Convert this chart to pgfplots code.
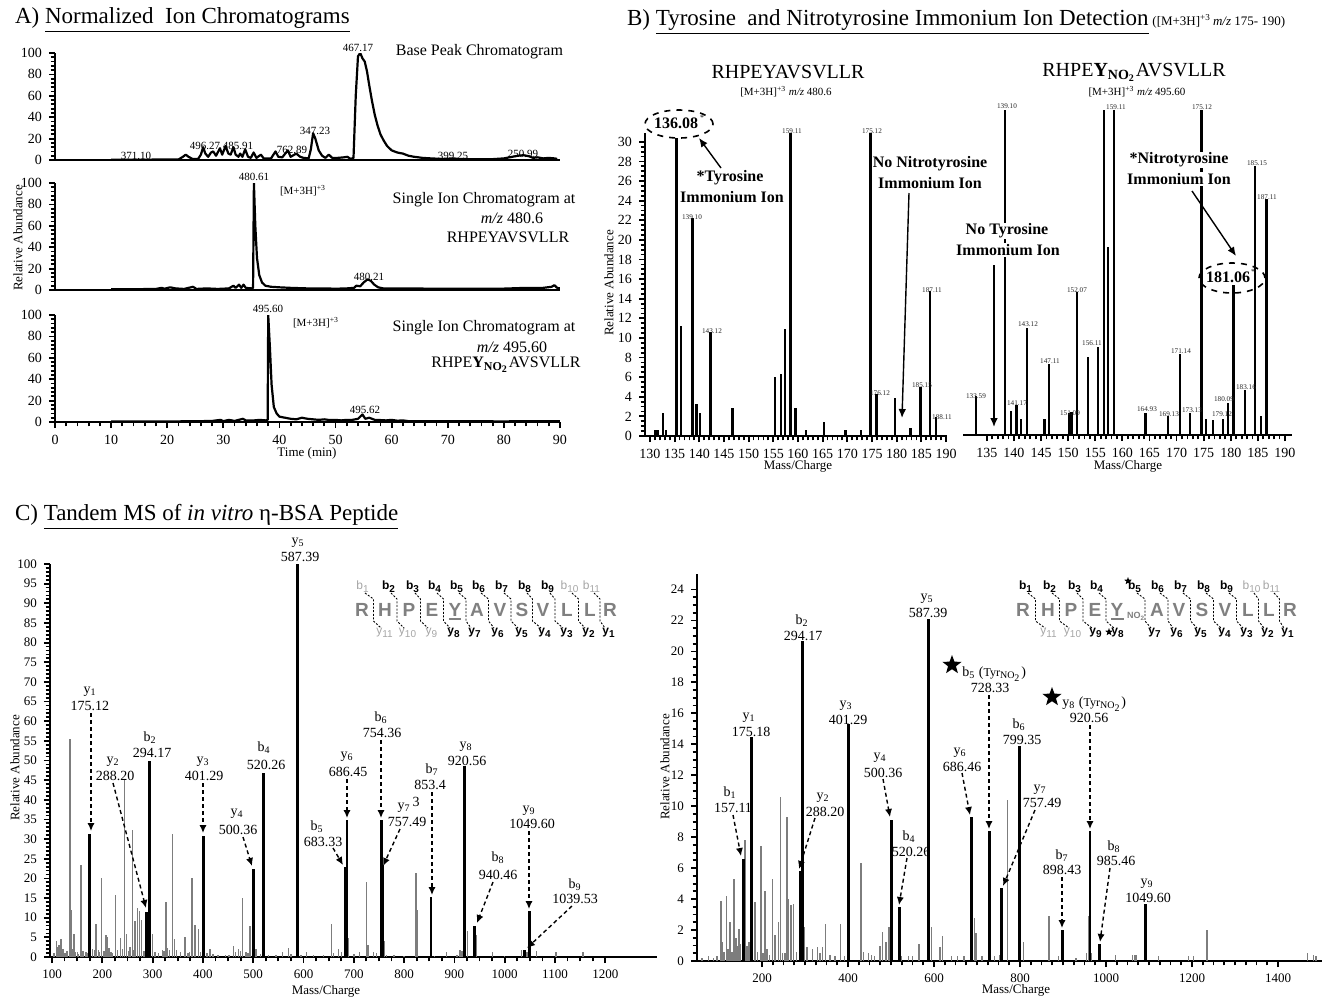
\documentclass[border=0pt]{standalone}
\usepackage{fontspec}
\setmainfont{Liberation Serif}
\newfontfamily\sansf{Liberation Sans}
\usepackage{pgfplots}
\pgfplotsset{compat=1.18}
\usetikzlibrary{arrows.meta,shapes.geometric}
\definecolor{gbar}{RGB}{125,125,125}
\definecolor{seqg}{RGB}{128,128,128}
\definecolor{lg}{RGB}{165,165,165}
\newcommand{\fs}[1]{\fontsize{#1}{#1}\selectfont}
\pgfplotsset{
 base/.style={scale only axis, anchor=south west, enlargelimits=false,
   axis x line*=bottom, axis y line*=left,
   axis line style={line width=1.2pt,-},
   tick style={line width=0.9pt,black},
   tick align=outside, major tick length=3pt, minor tick length=2.2pt,
   ticklabel style={font=\fs{7pt}},
   /pgf/number format/assume math mode=true,
   /pgf/number format/1000 sep={},
   scaled ticks=false},
}
\tikzset{
 darr/.style={dash pattern=on 2pt off 1.5pt, line width=0.7pt, -{Latex[length=4pt,width=3.6pt]}},
 sarr/.style={line width=0.7pt, -{Latex[length=4.5pt,width=3.8pt]}},
 lab/.style={font=\fs{7pt}, inner sep=0pt},
 tiny/.style={font=\fs{3.6pt}, inner sep=0pt, text=black!85},
}
\begin{document}
\begin{tikzpicture}
\path[use as bounding box] (0,0) rectangle (665pt,-499pt);

% ---------------- A1 ----------------
\begin{axis}[base, at={(27.5pt,-80pt)}, width=252.5pt, height=53.5pt,
  xmin=0, xmax=90, ymin=0, ymax=100, xtick=\empty, ytick={0,20,...,100}, minor y tick num=4]
\addplot[black, line width=1.1pt, line join=round] coordinates {
(10,0.3) (14,0.3) (18,0.4) (22,0.5) (22.8,3) (23.3,5) (23.8,3) (24.5,1) (25.5,1) (26.0,5) (26.4,12) (26.8,6) (27.3,3) (27.8,7) (28.2,8) (28.7,4) (29.1,8) (29.4,11) (29.8,5) (30.1,9) (30.4,13) (30.9,6) (31.3,5) (31.8,12) (32.2,5) (32.7,3) (33.0,6) (33.4,3) (33.9,10) (34.4,3) (34.9,2) (35.4,7) (35.9,2) (36.7,5) (37.2,1.5) (38.5,1.5) (39.3,8) (39.8,3) (40.5,2.5) (41.5,9) (42.0,3) (43.0,6) (43.7,3) (44.3,2) (45.2,1.5) (45.6,10) (46.0,25) (46.4,20) (47.0,9) (47.6,4) (48.2,2) (48.8,5) (49.4,2) (50.4,2) (51.5,2.5) (52.1,3) (52.7,1) (53.2,2) (53.6,60) (54.0,97) (54.4,100) (54.8,95) (55.2,92) (55.6,83) (56.0,70) (56.5,55) (57.0,42) (57.5,32) (58.0,24) (58.6,18) (59.2,13) (60.0,9) (61.0,7) (62.0,6) (63.0,4) (64.0,3) (65.5,2) (67,1.5) (69,1) (71,1.5) (72,1) (74,0.8) (78,0.8) (80,1.5) (81.5,3) (82.5,4) (83.5,4.5) (84.5,3.5) (85.2,2) (86,2.5) (87,1.5) (88,2) (89,1.5) (89.5,1)};
\end{axis}
% ---------------- A2 ----------------
\begin{axis}[base, at={(27.5pt,-145pt)}, width=252.5pt, height=53.5pt,
  xmin=0, xmax=90, ymin=0, ymax=100, xtick=\empty, ytick={0,20,...,100}, minor y tick num=4]
\addplot[black, line width=1.1pt, line join=round] coordinates {
(10,0.8) (15,0.8) (18,1) (19,2) (19.5,1.2) (20.5,2.5) (21.5,1.5) (23,1) (24.6,3) (25.2,1) (27,1.5) (29,1) (31,1.5) (31.8,4) (32.2,2) (32.8,5) (33.2,2) (33.6,5) (34.0,2) (35.0,1.5) (35.3,2) (35.45,100) (35.7,60) (36.0,30) (36.4,14) (36.9,7) (37.5,4) (38.5,3) (40,2.5) (42,2) (45,1.5) (48,1.5) (50,1.2) (52,1.5) (53.3,2) (53.7,4) (54.4,3.5) (55.0,7) (55.7,10) (56.3,8.5) (56.9,5) (57.6,2.5) (58.5,1.5) (62,1.5) (66,1.3) (70,1.2) (75,1.2) (80,1.3) (84,2) (87,2) (88.5,3) (89,4.5) (89.5,2) (90,1.5)};
\end{axis}
% ---------------- A3 ----------------
\begin{axis}[base, at={(27.5pt,-211pt)}, width=252.5pt, height=53.5pt,
  xmin=0, xmax=90, ymin=0, ymax=100, xtick={0,10,...,90}, minor x tick num=4, ytick={0,20,...,100}, minor y tick num=4]
\addplot[black, line width=1.1pt, line join=round] coordinates {
(10,0.5) (20,0.5) (26,0.8) (28,1) (29.5,2) (30,0.8) (31,2) (32,1) (33.5,3) (34,1.5) (35.5,1.5) (36.5,2) (37.5,1.5) (37.9,2) (38.0,100) (38.3,70) (38.6,35) (39.0,14) (39.5,8) (40.0,5) (41,4) (42,3) (43,2.5) (44,4) (45,3) (46,2.5) (47,2) (48,2.5) (49,1.8) (50,2) (51,1.5) (52,2) (53,2) (54,3) (54.8,7) (55.3,3) (56,4) (57,2) (58,1.8) (59,1.5) (60,2) (61,1.2) (62,1.5) (63,0.8) (70,0.7) (80,0.6) (90,0.8)};
\end{axis}

% ---------------- B1 ----------------
\begin{axis}[base, at={(322.5pt,-218pt)}, width=151pt, height=151.5pt,
  xmin=129, xmax=190.2, ymin=0, ymax=30.9, xtick={130,135,...,190}, minor x tick num=4,
  ytick={0,2,...,30}, minor y tick num=3]
\addplot[ycomb, black, line width=1.2pt] coordinates {
(131.0,0.6) (131.5,0.6) (132.7,2.3) (133.2,0.6) (135.4,31) (136.3,11.2) (138.6,22.2) (139.4,3.3) (140.2,2.3) (142.3,10.6) (146.7,2.9) (155.3,6.0) (156.5,6.3) (157.4,10.9) (158.5,31) (159.5,2.9) (161.6,0.6) (165.3,1.4) (169.6,0.6) (172.8,0.6) (174.7,31) (175.9,4.3) (179.7,3.9) (182.8,0.8) (184.8,5.0) (186.7,14.8) (188.0,1.9)};
\end{axis}
% ---------------- B2 ----------------
\begin{axis}[base, axis y line=none, at={(481.5pt,-217.5pt)}, width=164.5pt, height=162.5pt,
  xmin=130.6, xmax=191.3, ymin=0, ymax=33.2, xtick={135,140,...,190}, minor x tick num=4, ytick=\empty]
\addplot[ycomb, black, line width=1.2pt] coordinates {
(133.0,4.0) (138.4,33.2) (139.4,2.5) (140.5,3.1) (141.3,1.6) (142.4,10.9) (145.6,1.6) (146.5,7.3) (150.2,2.2) (150.6,2.4) (151.6,14.6) (153.7,8.0) (155.5,9.0) (156.6,33.2) (157.4,19.2) (158.5,33.2) (164.3,2.2) (168.4,1.9) (170.6,8.3) (172.5,2.2) (174.6,33.2) (175.4,1.6) (176.7,1.5) (178.6,1.6) (179.5,3.3) (180.5,15.3) (182.6,4.6) (184.5,27.5) (185.6,1.9) (186.6,24.1)};
\end{axis}

% ---------------- C1 ----------------
\begin{axis}[base, at={(25pt,-478.5pt)}, width=303.5pt, height=196.5pt,
  xmin=96, xmax=1302.8, ymin=0, ymax=100, xtick={100,200,...,1200}, minor x tick num=3,
  ytick={0,5,...,100}, minor y tick num=4, ticklabel style={font=\fs{6.5pt}}]
\addplot[ycomb, gbar, line width=0.7pt] coordinates {
(104,1) (109,4.0) (112,2.5) (114,3) (118,4.6) (122,2) (126,1) (130,1.5) (135.8,55.4) (138.5,12) (140,2) (143.8,5.8) (147,1.2) (150.4,1.4) (153,0.8) (157.7,23.5) (162,1.5) (167.6,1.2) (170,1) (180,2) (184,1.8) (187.5,8.5) (192.8,1.9) (195,1.3) (198.8,20.1) (203,1.5) (207.4,5.5) (210.7,5.1) (213,2.2) (217.3,1.4) (220,1) (226.6,15.8) (230,1.8) (236.5,4.8) (240,2) (244.5,45.3) (247.8,5.8) (252,1.5) (255,2.5) (259.7,32.4) (262,1.8) (265,9.1) (270.3,12.5) (274.3,11.6) (278.3,9.5) (283,1.5) (287,1.3) (294.9,9.5) (300.2,5.8) (305,1.4) (312,1) (320,1.9) (323,1.6) (326.7,14) (330,2.2) (333.3,1.9) (339.9,31.4) (343.2,4.6) (348,1.8) (355,1.2) (364.4,5.0) (370,1) (373,1.4) (378.4,20.1) (384.3,8.2) (391,7.1) (395,1.3) (402.2,9.1) (408,1.1) (414.2,2) (420,0.8) (430,0.6) (445,0.6) (452,0.5) (460.6,2.7) (465,1.2) (470.5,2) (475,1.5) (479.1,15) (486,1.2) (490,1.0) (493.7,8) (500.3,8.2) (505.6,2) (515,0.8) (522.2,3.1) (530,0.5) (545,0.4) (558.6,1.2) (569.9,2.3) (575,0.8) (588.4,10) (595,0.6) (606.3,1.2) (620,0.5) (640,0.5) (656,8.5) (660,1) (669.3,2) (675,1.2) (689,4.8) (700,0.8) (711,1.2) (725.6,19.2) (728,3.1) (738.8,1.2) (745,1) (760,4) (765,0.6) (780,0.4) (800,0.3) (823.7,21.4) (827,12) (860,0.3) (884.6,1.2) (905,0.5) (911,1.7) (915,1.5) (925.7,6.5) (943,5.5) (976,1.2) (1000,0.3) (1033.8,1.7) (1040,1.7) (1044,1.2) (1049.6,8.6) (1063.6,1.5) (1102,1.2) (1156,1.2)};
\addplot[ycomb, black, line width=1.4pt] coordinates {
(175.12,31.4) (288.20,11.4) (294.17,50) (401.29,30.8) (500.36,22.4) (520.26,46.8) (587.39,100) (683.33,23) (686.45,34.9) (754.36,34.9) (757.49,23.5) (853.4,15.3) (920.56,48.6) (940.46,7.8) (1039.53,1.9) (1049.60,11.6)};
\end{axis}
% ---------------- C2 ----------------
\begin{axis}[base, at={(348.5pt,-480.5pt)}, width=312.5pt, height=193.5pt,
  xmin=48.8, xmax=1502.3, ymin=0, ymax=25, xtick={200,400,...,1400}, minor x tick num=7,
  ytick={0,2,...,24}, minor y tick num=3, ticklabel style={font=\fs{6.5pt}}]
\addplot[ycomb, gbar, line width=0.7pt] coordinates {
(60,0.2) (75,0.3) (86.7,0.2) (95,0.3) (104.7,3.9) (108.6,1.2) (112,0.6) (117.9,4.2) (121,0.8) (125.6,2.5) (130,0.6) (134.9,5.3) (139.5,1.5) (143,1.0) (146.5,2.1) (150,1.1) (160,7.8) (165,1.0) (169.8,1.2) (177.5,2.0) (183.7,3.8) (190,0.6) (197.7,7.4) (202,0.5) (207,4.5) (212,0.8) (218,0.4) (224,5.3) (230.2,1.7) (238,2.5) (243.4,10.6) (248,0.5) (253.5,0.5) (258.1,9.3) (261.2,4.0) (267.4,3.6) (273.6,3.7) (280,0.6) (297.7,2.2) (304.7,0.9) (317.8,0.8) (328.7,0.9) (335,0.5) (341.1,0.9) (348.1,2.4) (358.1,0.4) (370,0.3) (383,2.4) (392,0.3) (430.2,6.3) (435.7,0.6) (448.1,0.5) (455,0.4) (462,0.3) (474.4,1.0) (480.6,1.9) (488.4,1.2) (495.3,2.2) (503.9,2.5) (523.3,0.3) (540,0.3) (550,0.3) (565.1,1.1) (587.39,2.8) (594.6,2.2) (613.9,0.9) (620.2,1.6) (640,0.3) (655,0.3) (670,0.3) (690,2.5) (693.8,2.8) (697.7,1.8) (712,0.3) (740,0.3) (752,0.4) (771.3,10.4) (800,2.5) (807.8,1.2) (867.4,2.9) (889,0.3) (930.2,0.2) (955,0.5) (959.8,2.9) (966,0.5) (1021.7,0.4) (1062,0.4) (1066,0.4) (1070,0.4) (1121.7,0.3) (1191.4,0.3) (1203,0.3) (1234.9,2.0) (1468,0.5) (1482,0.4) (1488,0.3)};
\addplot[ycomb, black, line width=1.4pt] coordinates {
(157.11,6.6) (175.18,14.5) (288.20,5.8) (294.17,20.7) (401.29,15.3) (500.36,9.1) (520.26,3.5) (587.39,22.1) (686.46,9.3) (728.33,8.4) (757.49,4.7) (799.35,13.9) (898.43,2.0) (962.8,8.4) (985.46,1.1) (1092,3.7)};
\end{axis}

% ================= annotations (pixel coordinates) =================
\begin{scope}[x=0.5pt,y=-0.5pt]
% titles
\node[anchor=west, font=\fs{11.5pt}] at (8,20) {A) \underline{Normalized\ \ Ion Chromatograms}};
\node[anchor=west, font=\fs{11.5pt}] at (620,22) {B) \underline{Tyrosine\ \ and Nitrotyrosine Immonium Ion Detection}\,{\fs{6.5pt}([M+3H]\textsuperscript{+3}\,\textit{m/z} 175- 190)}};
\node[anchor=west, font=\fs{11.5pt}] at (8,517) {C) \underline{Tandem MS of \textit{in vitro} η-BSA Peptide}};

% ---- A texts
\node[anchor=east, font=\fs{8pt}] at (570,52) {Base Peak Chromatogram};
\foreach \x/\y/\t in {136/156/371.10, 205/146/496.27, 238/146/485.91, 292/150/762.89, 315/131/347.23, 358/48/467.17, 453/156/399.25, 523/154/250.99}
  \node[font=\fs{5.5pt}, inner sep=0pt] at (\x,\y) {\t};
\node[font=\fs{8pt}] at (484,200) {Single Ion Chromatogram at};
\node[font=\fs{8pt}] at (512,218) {\textit{m/z} 480.6};
\node[font=\fs{8pt}] at (508,237) {RHPEYAVSVLLR};
\node[font=\fs{5.5pt}, inner sep=0pt] at (254,177) {480.61};
\node[font=\fs{5.5pt}, inner sep=0pt] at (303,191) {[M+3H]\textsuperscript{+3}};
\node[font=\fs{5.5pt}, inner sep=0pt] at (369,277) {480.21};
\node[font=\fs{8pt}] at (484,328) {Single Ion Chromatogram at};
\node[font=\fs{8pt}] at (512,347) {\textit{m/z} 495.60};
\node[font=\fs{8pt}] at (506,365) {RHPE\textbf{Y}\textsubscript{\textbf{NO\textsubscript{2}}}AVSVLLR};
\node[font=\fs{5.5pt}, inner sep=0pt] at (268,309) {495.60};
\node[font=\fs{5.5pt}, inner sep=0pt] at (316,323) {[M+3H]\textsuperscript{+3}};
\node[font=\fs{5.5pt}, inner sep=0pt] at (365,410) {495.62};
\node[rotate=90, font=\fs{6.5pt}] at (18,238) {Relative Abundance};
\node[font=\fs{6.5pt}] at (307,453) {Time (min)};

% ---- B texts
\node[font=\fs{10pt}] at (788,72) {RHPEYAVSVLLR};
\node[font=\fs{5.5pt}] at (786,92) {[M+3H]\textsuperscript{+3} \textit{m/z} 480.6};
\node[font=\fs{10pt}] at (1134,72) {RHPE\textbf{Y}\textsubscript{\textbf{NO\textsubscript{2}}}AVSVLLR};
\node[font=\fs{5.5pt}] at (1137,92) {[M+3H]\textsuperscript{+3} \textit{m/z} 495.60};
\node[rotate=90, font=\fs{6.5pt}] at (609,283) {Relative Abundance};
\node[font=\fs{6.5pt}] at (798,466) {Mass/Charge};
\node[font=\fs{6.5pt}] at (1128,466) {Mass/Charge};
% B1 annotations
\draw[dashed, line width=0.8pt, fill=white] (679,124) ellipse (17pt and 7pt);
\node[font=\fs{8pt}\bfseries, inner sep=0pt] at (676,123) {136.08};
\node[font=\fs{4pt}, inner sep=0pt] at (702,118) {*};
\draw[sarr] (721,168) -- (699,138);
\node[font=\fs{8pt}\bfseries, inner sep=0.5pt] at (730,178) {*Tyrosine};
\node[font=\fs{8pt}\bfseries, inner sep=0.5pt] at (732,197) {Immonium Ion};
\node[font=\fs{8pt}\bfseries, inner sep=0.5pt] at (930,164) {No Nitrotyrosine};
\node[font=\fs{8pt}\bfseries, inner sep=0.5pt] at (930,183) {Immonium Ion};
\draw[sarr] (909,193) -- (902,418);
\foreach \x/\y/\t in {692/217/139.10, 712/331/143.12, 792/131/159.11, 872/131/175.12, 880/393/176.12, 922/385/185.15, 932/290/187.11, 942/417/188.11}
  \node[tiny] at (\x,\y) {\t};
% B2 annotations
\node[font=\fs{8pt}\bfseries, inner sep=0.6pt, fill=white] at (1007,231) {No Tyrosine};
\node[font=\fs{8pt}\bfseries, inner sep=0.6pt, fill=white] at (1008,250) {Immonium Ion};
\draw[sarr] (994,265) -- (994,427);
\node[font=\fs{8pt}\bfseries, inner sep=0.6pt, fill=white] at (1179,160) {*Nitrotyrosine};
\node[font=\fs{8pt}\bfseries, inner sep=0.6pt, fill=white] at (1179,179) {Immonium Ion};
\draw[sarr] (1192,191) -- (1236,256);
\draw[dashed, line width=0.8pt] (1232,278) ellipse (16.5pt and 7.5pt);
\node[font=\fs{8pt}\bfseries, inner sep=0.5pt, fill=white] at (1228,277) {181.06};
\node[font=\fs{4pt}, inner sep=0pt] at (1253,272) {*};
\foreach \x/\y/\t in {976/396/133.59, 1007/106/139.10, 1017/403/141.17, 1028/324/143.12, 1050/361/147.11, 1070/413/151.09, 1077/290/152.07, 1092/343/156.11, 1116/107/159.11, 1147/409/164.93, 1169/414/169.13, 1181/351/171.14, 1192/410/173.13, 1202/107/175.12, 1222/414/179.12, 1224/399/180.09, 1246/387/183.16, 1257/163/185.15, 1267/197/187.11}
  \node[tiny] at (\x,\y) {\t};

% ---- C texts
\node[rotate=90, font=\fs{6.5pt}] at (15,768) {Relative Abundance};
\node[font=\fs{6.5pt}] at (326,991) {Mass/Charge};
\node[rotate=90, font=\fs{6.5pt}] at (665,767) {Relative Abundance};
\node[font=\fs{6.5pt}] at (1016,990) {Mass/Charge};

% C1 labels
\foreach \x/\y/\t in {90/692/y\textsubscript{1}, 90/706/175.12, 113/762/y\textsubscript{2}, 115/776/288.20, 150/738/b\textsubscript{2}, 152/753/294.17, 203/762/y\textsubscript{3}, 204/776/401.29, 237/814/y\textsubscript{4}, 238/830/500.36, 264/748/b\textsubscript{4}, 266/765/520.26, 298/543/y\textsubscript{5}, 300/557/587.39, 317/827/b\textsubscript{5}, 323/842/683.33, 347/757/y\textsubscript{6}, 348/772/686.45, 381/718/b\textsubscript{6}, 382/733/754.36, 404/808/y\textsubscript{7}, 416/802/3, 407/822/757.49, 432/770/b\textsubscript{7}, 430/785/853.4, 466/747/y\textsubscript{8}, 467/761/920.56, 498/858/b\textsubscript{8}, 498/875/940.46, 529/811/y\textsubscript{9}, 532/824/1049.60, 575/885/b\textsubscript{9}, 575/899/1039.53}
  \node[lab] at (\x,\y) {\t};
\draw[darr] (91,713) -- (91,831);
\draw[darr] (113,783) -- (146,908);
\draw[darr] (203,783) -- (203,833);
\draw[darr] (243,837) -- (252,866);
\draw[darr] (333,848) -- (343,865);
\draw[darr] (347,779) -- (347,818);
\draw[darr] (381,740) -- (381,818);
\draw[darr] (400,829) -- (383,866);
\draw[darr] (432,792) -- (432,895);
\draw[darr] (493,882) -- (477,923);
\draw[darr] (529,831) -- (529,909);
\draw[darr] (572,906) -- (527,948);

% C1 sequence
\foreach \x/\l in {362/R,385/H,409/P,432/E,455/Y,477/A,500/V,522/S,543/V,567/L,590/L,610/R}
  \node[font=\sansf\bfseries\fs{9.5pt}, text=seqg, inner sep=0pt] at (\x,610) {\l};
\draw[seqg, line width=0.8pt] (449,619) -- (461,619);
\foreach \x/\n/\c/\w in {363/1/lg/\mdseries, 389/2/black/\bfseries, 413/3/black/\bfseries, 435/4/black/\bfseries, 457/5/black/\bfseries, 479/6/black/\bfseries, 502/7/black/\bfseries, 525/8/black/\bfseries, 548/9/black/\bfseries, 570/10/lg/\mdseries, 592/11/lg/\mdseries}
  \node[font=\sansf\w\fs{6pt}, text=\c, inner sep=0pt] at (\x,587) {b\textsubscript{\n}};
\foreach \x/\n/\c/\w in {385/11/lg/\mdseries, 408/10/lg/\mdseries, 432/9/lg/\mdseries, 454/8/black/\bfseries, 475/7/black/\bfseries, 498/6/black/\bfseries, 522/5/black/\bfseries, 545/4/black/\bfseries, 567/3/black/\bfseries, 589/2/black/\bfseries, 609/1/black/\bfseries}
  \node[font=\sansf\w\fs{6pt}, text=\c, inner sep=0pt] at (\x,633) {y\textsubscript{\n}};
\foreach \bx/\s/\yx in {363/373.5/385, 389/397/408, 413/420.5/432, 435/443.5/454, 457/466/475, 479/488.5/498, 502/511/522, 525/532.5/545, 548/555/567, 570/578.5/589, 592/600/609}
  \draw[dash pattern=on 1pt off 0.8pt, line width=0.45pt] (\bx+2,593) -- (\s,599) -- (\s,621) -- (\yx-4,628);

% C2 labels
\foreach \x/\y/\t in {927/599/y\textsubscript{5}, 928/613/587.39, 802/621/b\textsubscript{2}, 803/636/294.17, 846/706/y\textsubscript{3}, 848/720/401.29, 749/718/y\textsubscript{1}, 751/732/175.18, 880/758/y\textsubscript{4}, 883/773/500.36, 730/793/b\textsubscript{1}, 733/808/157.11, 823/798/y\textsubscript{2}, 825/812/288.20, 909/837/b\textsubscript{4}, 911/852/520.26, 960/753/y\textsubscript{6}, 962/767/686.46, 990/688/728.33, 1019/725/b\textsubscript{6}, 1022/740/799.35, 1040/790/y\textsubscript{7}, 1042/803/757.49, 1089/718/920.56, 1062/856/b\textsubscript{7}, 1062/870/898.43, 1114/847/b\textsubscript{8}, 1116/861/985.46, 1147/884/y\textsubscript{9}, 1148/898/1049.60}
  \node[lab] at (\x,\y) {\t};
\node[lab, anchor=west] at (962,674) {b\textsubscript{5} ({\fs{6pt}Tyr}\textsubscript{NO\textsubscript{2}})};
\node[lab, anchor=west] at (1062,704) {y\textsubscript{8} ({\fs{6pt}Tyr}\textsubscript{NO\textsubscript{2}})};
\node[star, star points=5, star point ratio=2.4, fill=black, inner sep=0pt, minimum size=10pt] at (952,665) {};
\node[star, star points=5, star point ratio=2.4, fill=black, inner sep=0pt, minimum size=10pt] at (1052,697) {};
\draw[darr] (883,779) -- (890,817);
\draw[darr] (733,815) -- (741,856);
\draw[darr] (815,818) -- (799,869);
\draw[darr] (907,858) -- (899,905);
\draw[darr] (962,773) -- (970,815);
\draw[darr] (989,695) -- (989,829);
\draw[darr] (1035,810) -- (1003,886);
\draw[darr] (1090,725) -- (1090,829);
\draw[darr] (1062,877) -- (1062,928);
\draw[darr] (1110,868) -- (1100,942);

% C2 sequence
\foreach \x/\l in {1023/R,1048/H,1071/P,1095/E,1117/Y,1157/A,1179/V,1202/S,1225/V,1248/L,1269/L,1290/R}
  \node[font=\sansf\bfseries\fs{9.5pt}, text=seqg, inner sep=0pt] at (\x,610) {\l};
\node[font=\sansf\bfseries\fs{4.5pt}, text=seqg, inner sep=0pt] at (1136,616) {NO\textsubscript{2}};
\draw[seqg, line width=0.8pt] (1111,619) -- (1124,619);
\foreach \x/\n/\c/\w in {1026/1/black/\bfseries, 1050/2/black/\bfseries, 1075/3/black/\bfseries, 1097/4/black/\bfseries, 1135/5/black/\bfseries, 1158/6/black/\bfseries, 1181/7/black/\bfseries, 1204/8/black/\bfseries, 1227/9/black/\bfseries, 1252/10/lg/\mdseries, 1272/11/lg/\mdseries}
  \node[font=\sansf\w\fs{6pt}, text=\c, inner sep=0pt] at (\x,587) {b\textsubscript{\n}};
\foreach \x/\n/\c/\w in {1049/11/lg/\mdseries, 1073/10/lg/\mdseries, 1096/9/black/\bfseries, 1118/8/black/\bfseries, 1155/7/black/\bfseries, 1177/6/black/\bfseries, 1201/5/black/\bfseries, 1225/4/black/\bfseries, 1247/3/black/\bfseries, 1268/2/black/\bfseries, 1288/1/black/\bfseries}
  \node[font=\sansf\w\fs{6pt}, text=\c, inner sep=0pt] at (\x,633) {y\textsubscript{\n}};
\node[star, star points=5, star point ratio=2.4, fill=black, inner sep=0pt, minimum size=4pt] at (1128,581) {};
\node[star, star points=5, star point ratio=2.4, fill=black, inner sep=0pt, minimum size=4pt] at (1109,632) {};
\foreach \bx/\s/\yx in {1026/1035.5/1049, 1050/1059.5/1073, 1075/1083/1096, 1097/1106/1118, 1135/1145/1155, 1158/1168/1177, 1181/1190.5/1201, 1204/1213.5/1225, 1227/1236.5/1247, 1252/1258.5/1268, 1272/1279.5/1288}
  \draw[dash pattern=on 1pt off 0.8pt, line width=0.45pt] (\bx+2,593) -- (\s,599) -- (\s,621) -- (\yx-4,628);
\end{scope}
\end{tikzpicture}
\end{document}
